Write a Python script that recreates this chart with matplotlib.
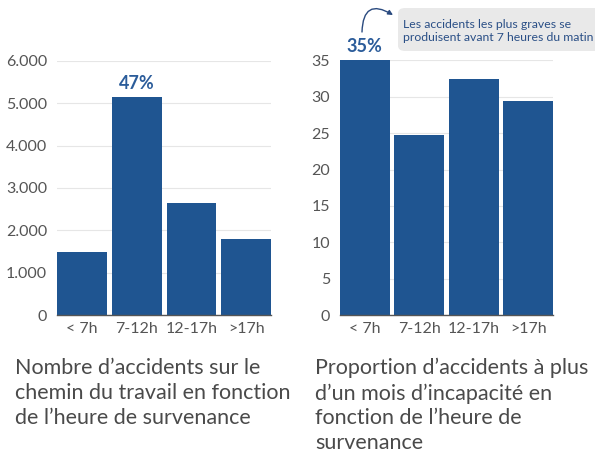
import matplotlib.pyplot as plt
from matplotlib.ticker import FuncFormatter, MultipleLocator
from matplotlib.patches import FancyBboxPatch

# ---------------- Données ----------------
tranches = ['< 7h', '7-12h', '12-17h', '>17h']
nb_accidents = [1500, 5140, 2640, 1790]
proportion_graves = [35, 24.8, 32.5, 29.4]

bleu = '#1f5591'
bleu_texte = '#2b5c9a'
gris_texte = '#4a4a4a'

plt.rcParams['font.family'] = ['Lato', 'DejaVu Sans']

fig = plt.figure(figsize=(5.95, 4.54), dpi=100, facecolor='white')
ax1 = fig.add_axes([0.0958, 0.306, 0.36, 0.560])
ax2 = fig.add_axes([0.5714, 0.306, 0.358, 0.561])


def style_axe(ax):
    for s in ['top', 'right', 'left']:
        ax.spines[s].set_visible(False)
    ax.spines['bottom'].set_color('#555555')
    ax.spines['bottom'].set_linewidth(1.0)
    ax.grid(axis='y', color='#e6e6e6', linewidth=0.8)
    ax.set_axisbelow(True)
    ax.tick_params(length=0, labelsize=11.5, colors='#555555')
    ax.tick_params(axis='y', pad=7)
    ax.tick_params(axis='x', pad=5)
    ax.set_xlim(-0.455, 3.455)


x = range(len(tranches))

# ---------------- Graphique gauche ----------------
ax1.bar(x, nb_accidents, width=0.91, color=bleu, zorder=2)
ax1.set_ylim(0, 6000)
ax1.yaxis.set_major_locator(MultipleLocator(1000))
ax1.yaxis.set_major_formatter(FuncFormatter(lambda v, p: f'{int(v):,}'.replace(',', '.')))
ax1.set_xticks(list(x))
ax1.set_xticklabels(tranches)
style_axe(ax1)
ax1.text(1, nb_accidents[1] + 120, '47%', ha='center', va='bottom',
         fontsize=13, fontweight='bold', color=bleu_texte)

# ---------------- Graphique droit ----------------
ax2.bar(x, proportion_graves, width=0.91, color=bleu, zorder=2)
ax2.set_ylim(0, 35)
ax2.yaxis.set_major_locator(MultipleLocator(5))
ax2.set_xticks(list(x))
ax2.set_xticklabels(tranches)
style_axe(ax2)
ax2.text(0, proportion_graves[0] + 0.7, '35%', ha='center', va='bottom',
         fontsize=13, fontweight='bold', color=bleu_texte, clip_on=False)

# Encadré d'annotation
boite = FancyBboxPatch((398 / 595, (454 - 51) / 454), 0.4, 43 / 454,
                       boxstyle='round,pad=0,rounding_size=0.012',
                       transform=fig.transFigure, facecolor='#e9e9e9',
                       edgecolor='none')
fig.patches.append(boite)
fig.text(403 / 595, (454 - 31) / 454,
         'Les accidents les plus graves se\nproduisent avant 7 heures du matin',
         fontsize=8.8, color='#2a4f86', va='center',
         ha='left', linespacing=1.12)
fig.add_artist(plt.Annotation('', xy=(393 / 595, (454 - 15) / 454),
                              xytext=(362 / 595, (454 - 32) / 454),
                              xycoords='figure fraction',
                              arrowprops=dict(arrowstyle='-|>', color='#2a4a7f',
                                              lw=1.0, mutation_scale=7,
                                              shrinkA=0, shrinkB=0,
                                              connectionstyle='arc3,rad=-0.85')))

# ---------------- Légendes ----------------
fig.text(15 / 595, (454 - 358) / 454,
         'Nombre d’accidents sur le\nchemin du travail en fonction\nde l’heure de survenance',
         fontsize=15.5, color=gris_texte, va='top', ha='left', linespacing=1.3)
fig.text(315 / 595, (454 - 358) / 454,
         'Proportion d’accidents à plus\nd’un mois d’incapacité en\nfonction de l’heure de\nsurvenance',
         fontsize=15.5, color=gris_texte, va='top', ha='left', linespacing=1.3)

fig.savefig('out.png', dpi=100, facecolor='white')
